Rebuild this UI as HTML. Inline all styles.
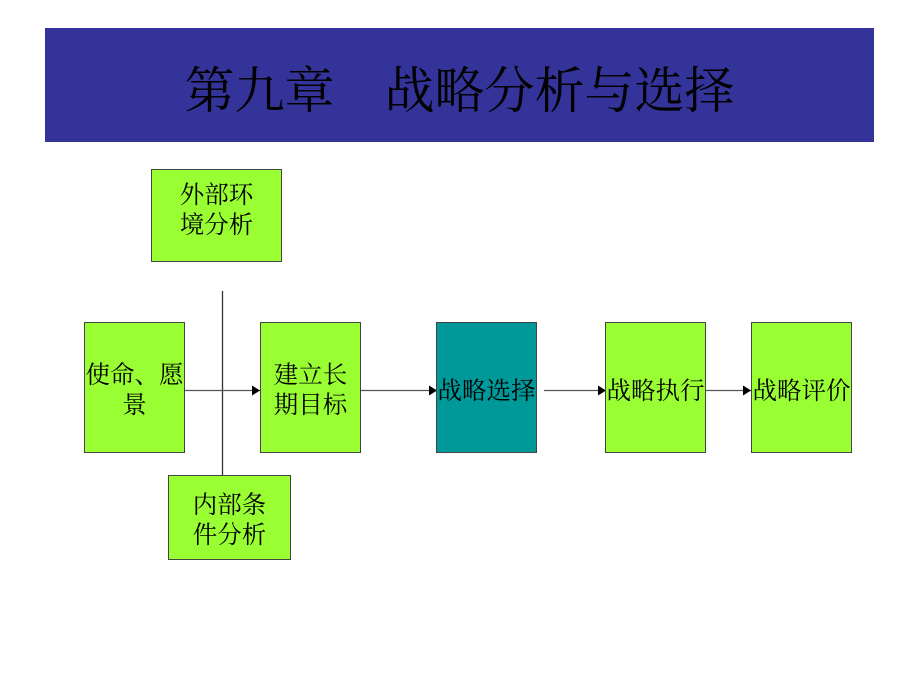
<!DOCTYPE html>
<html><head><meta charset="utf-8"><style>
html,body{margin:0;padding:0;background:#fff;}
body{width:920px;height:690px;position:relative;overflow:hidden;font-family:"Liberation Serif","Noto Serif CJK SC",serif;}
.bar{position:absolute;left:45px;top:28px;width:829px;height:114px;background:#333399;}
.title{position:absolute;left:45px;top:34px;width:829px;height:114px;line-height:114px;text-align:center;font-size:50px;color:#000;white-space:nowrap;}
.box{position:absolute;box-sizing:border-box;border:1px solid #444;background:#99ff33;display:flex;align-items:center;justify-content:center;text-align:center;font-size:24.5px;line-height:30px;color:#000;padding-top:7px;}
.teal{background:#009999;}
svg{position:absolute;left:0;top:0;}
</style></head><body>
<div class="bar"></div>
<div class="title">第九章　战略分析与选择</div>
<svg width="920" height="690">
<defs><marker id="a" markerWidth="8" markerHeight="10" refX="8" refY="5" orient="auto" markerUnits="userSpaceOnUse"><path d="M0,0 L8,5 L0,10 Z" fill="#000"/></marker></defs>
<line x1="222.5" y1="291" x2="222.5" y2="475" stroke="#333" stroke-width="1.3"/>
<line x1="184" y1="390.5" x2="260" y2="390.5" stroke="#555" stroke-width="1.3" marker-end="url(#a)"/>
<line x1="360" y1="390.5" x2="437" y2="390.5" stroke="#555" stroke-width="1.3" marker-end="url(#a)"/>
<line x1="544" y1="390.5" x2="606" y2="390.5" stroke="#555" stroke-width="1.3" marker-end="url(#a)"/>
<line x1="705" y1="390.5" x2="751" y2="390.5" stroke="#555" stroke-width="1.3" marker-end="url(#a)"/>
</svg>
<div class="box" style="left:151px;top:169px;width:131px;height:93px;line-height:30px;padding-top:0;padding-bottom:10px;">外部环<br>境分析</div>
<div class="box" style="left:84px;top:322px;width:101px;height:131px;">使命、愿<br>景</div>
<div class="box" style="left:260px;top:322px;width:101px;height:131px;">建立长<br>期目标</div>
<div class="box" style="left:168px;top:475px;width:123px;height:85px;padding-top:6px;">内部条<br>件分析</div>
<div class="box teal" style="left:436px;top:322px;width:101px;height:131px;white-space:nowrap;padding-top:8px;">战略选择</div>
<div class="box" style="left:605px;top:322px;width:101px;height:131px;white-space:nowrap;padding-top:8px;">战略执行</div>
<div class="box" style="left:751px;top:322px;width:101px;height:131px;white-space:nowrap;padding-top:8px;">战略评价</div>
</body></html>
